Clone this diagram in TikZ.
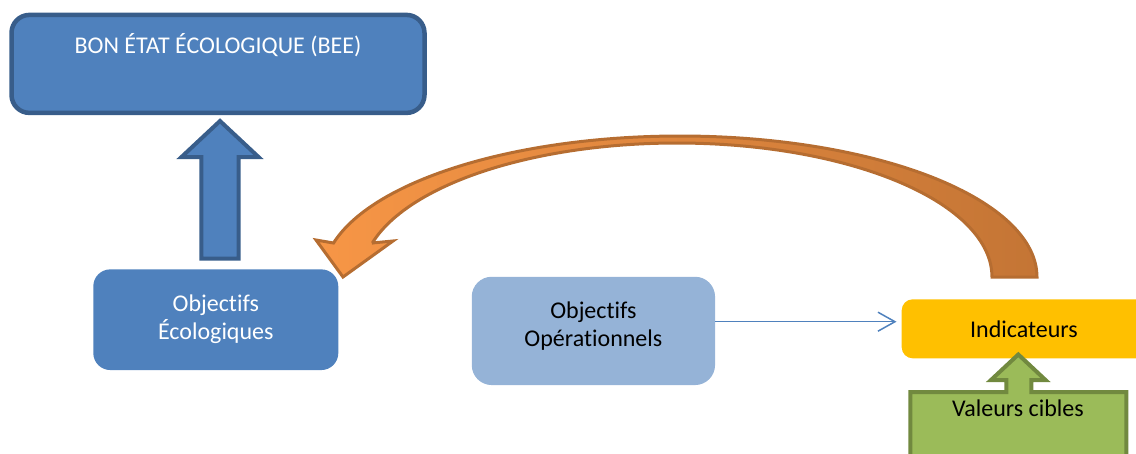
\documentclass[tikz,border=0pt]{standalone}
\usepackage{fontspec}
\setmainfont{Carlito}[Ligatures={NoCommon}]
\usetikzlibrary{arrows.meta}

\definecolor{accblue}{HTML}{4F81BD}
\definecolor{accbluedk}{HTML}{385D8A}
\definecolor{lightblue}{HTML}{95B3D7}
\definecolor{amber}{HTML}{FFC000}
\definecolor{olive}{HTML}{9BBB59}
\definecolor{olivedk}{HTML}{71893F}
\definecolor{orangeL}{HTML}{F79646}
\definecolor{orangeR}{HTML}{C47535}
\definecolor{orangedk}{HTML}{B66D31}

\begin{document}
\begin{tikzpicture}[x=1pt,y=-1pt,
  lbl/.style={font=\fontsize{24}{28}\selectfont, inner sep=0pt, align=center},
  panel/.style={inner sep=0pt, rounded corners=#1},
  blockarrow/.style={line width=4pt, line join=miter}]
\useasboundingbox (0,0) rectangle (1136,453);

% top box
\node[panel=18pt, draw=accbluedk, line width=4.5pt, fill=accblue,
      minimum width=413pt, minimum height=98pt] (bee) at (218,63.9) {};
\node[lbl, text=white, anchor=base] (beetxt) at (218,53.5) {BON ÉTAT ÉCOLOGIQUE (BEE)};

% lower boxes
\node[panel=17pt, fill=accblue, minimum width=245pt, minimum height=100.7pt] (eco) at (215.8,319.7) {};
\node[lbl, text=white] (ecotxt) at (215.8,319) {Objectifs\\Écologiques};

\node[panel=20pt, fill=lightblue, minimum width=243.3pt, minimum height=108.3pt] (opop) at (593.4,330.9) {};
\node[lbl, text=black] (opoptxt) at (593.4,326.2) {Objectifs\\Opérationnels};

\node[panel=11pt, fill=amber, minimum width=260pt, minimum height=59pt] (ind) at (1031.7,328.8) {};
\node[lbl, text=black, anchor=base] (indtxt) at (1024,337.7) {Indicateurs};

% link between operational objectives and indicators
\draw[accblue, line width=1.5pt, shorten >=5pt, -{Straight Barb[length=17pt,width=19pt]}]
  ([yshift=9.2pt]opop.east) -- ([yshift=7.1pt]ind.west);

% block arrow up to the top box
\draw[blockarrow, draw=accbluedk, fill=accblue]
  (220,121) -- (258.5,157) -- (238.7,157) -- (238.7,258.7)
  -- (201.3,258.7) -- (201.3,157) -- (181.5,157) -- cycle;

% target values callout pointing to the indicators
\draw[blockarrow, draw=olivedk, fill=olive]
  (1018.3,354.5) -- (1045.5,380) -- (1031.3,380) -- (1031.3,392)
  -- (1126.3,392) -- (1126.3,470) -- (910.3,470) -- (910.3,392)
  -- (1006.3,392) -- (1006.3,380) -- (991,380) -- cycle;
\node[lbl, text=black, anchor=base] (valtxt) at (1018,416.7) {Valeurs cibles};

% curved feedback arrow from the indicators back to the ecological objectives
\path[draw=orangedk, line width=3pt, line join=miter, left color=orangeL, right color=orangeR]
  (992,277) -- (1037,277)
  -- plot[domain=0:166.05, samples=120] ({680+357*cos(\x)},{277-141*sin(\x)})
  -- (316,240) -- (343,277) -- (393,241) -- (372,243)
  -- plot[domain=165.3:0, samples=120] ({677+315*cos(\x)},{277-134*sin(\x)})
  -- cycle;
\end{tikzpicture}
\end{document}
